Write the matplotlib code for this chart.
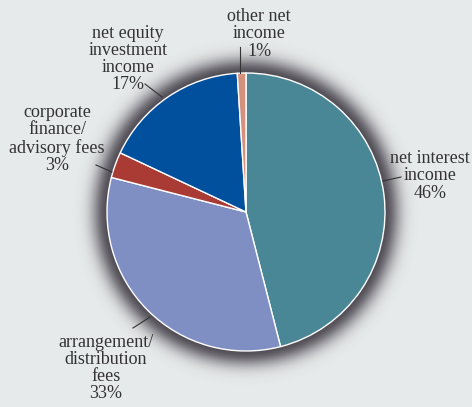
import matplotlib.pyplot as plt
import numpy as np

# income breakdown (%), clockwise from 12 o'clock
labels = ["net interest\nincome", "arrangement/\ndistribution\nfees",
          "corporate\nfinance/\nadvisory fees", "net equity\ninvestment\nincome",
          "other net\nincome"]
shares = [46, 33, 3, 17, 1]
colors = ["#4a8796", "#7f8fc4", "#a93b34", "#01509d", "#d3917e"]

W, H = 472, 407
cx, cy, R = 246, H - 212, 139

# label text centre and leader line (pixel coords, y from top)
text_pos = [(430, 176), (106, 368), (57, 139), (128, 59), (259, 34)]
leaders = [((383, 181), (401, 177)), ((150, 317), (133, 328)),
           ((112, 172), (96, 165)), ((162, 97), (145, 84)),
           ((240, 73), (240, 47))]

plt.rcParams['font.family'] = ['Liberation Serif', 'DejaVu Serif']

fig = plt.figure(figsize=(W / 100, H / 100), dpi=100)
fig.patch.set_facecolor("#e7eaeb")
ax = fig.add_axes([0, 0, 1, 1])
ax.set_facecolor("#e7eaeb")

# soft dark glow around the pie
yy, xx = np.mgrid[0:H, 0:W]
d = np.hypot(xx + 0.5 - cx, (H - yy - 0.5) - cy) - R
alpha = np.exp(-(np.clip(d, 0, None) / 15.0) ** 2) * 0.85
glow = np.zeros((H, W, 4))
glow[..., 0] = 0.22
glow[..., 1] = 0.2
glow[..., 2] = 0.24
glow[..., 3] = alpha
ax.imshow(glow, extent=(0, W, 0, H), origin="upper", zorder=0)

ax.pie(shares, colors=colors, startangle=90, counterclock=False,
       center=(cx, cy), radius=R, frame=True,
       wedgeprops=dict(edgecolor="white", linewidth=1.0, zorder=2))

for lab, s, (tx, ty) in zip(labels, shares, text_pos):
    ax.text(tx, H - ty, f"{lab}\n{s}%", ha="center", va="center",
            fontsize=13, color="#333333", linespacing=1.02, zorder=3)

for (x0, y0), (x1, y1) in leaders:
    ax.plot([x0, x1], [H - y0, H - y1], color="#333333", lw=0.8, zorder=3)

ax.set_xlim(0, W)
ax.set_ylim(0, H)
ax.set_aspect("auto")
ax.axis("off")

fig.savefig("out.png", dpi=100, facecolor=fig.get_facecolor())
